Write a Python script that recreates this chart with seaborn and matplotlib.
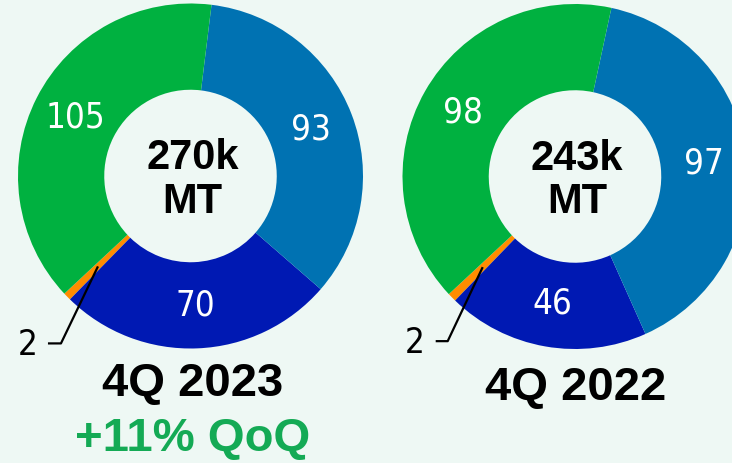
import matplotlib.pyplot as plt
import seaborn as sns
import numpy as np

# segment order: counter-clockwise from the small orange slice
segment_colors = ["#ff8c00", "#0019b3", "#0072b2", "#00b140"]
values_4q23 = [2, 70, 93, 105]
values_4q22 = [2, 46, 97, 98]
period_labels = ["4Q 2023", "4Q 2022"]
center_labels = ["270k\nMT", "243k\nMT"]
growth_label = "+11% QoQ"

sns.set_style("white")
plt.rcParams['font.family'] = ['Liberation Sans', 'DejaVu Sans']
num_font = dict(family='DejaVu Sans', stretch='condensed')

W, H = 732, 463
bg = "#eef8f4"
fig = plt.figure(figsize=(W / 100, H / 100), dpi=100)
fig.patch.set_facecolor(bg)
ax = fig.add_axes([0, 0, 1, 1])
ax.set_facecolor(bg)

R = 172.5


def donut(values, cx, cy, center_text, elbow, tail, small_pos):
    total = sum(values)
    wedges, _, autotexts = ax.pie(
        values, colors=segment_colors, startangle=223, counterclock=True,
        center=(cx, cy), radius=R,
        wedgeprops=dict(width=R * 0.5, linewidth=0),
        autopct=lambda p: f"{p * total / 100:.0f}" if p * total / 100 >= 5 else "",
        pctdistance=0.75,
        textprops=dict(color="white", fontsize=25, **num_font),
    )
    ax.text(cx + 2, cy - 4, center_text, ha="center", va="center",
            fontsize=30, fontweight="bold", color="black", linespacing=1.1)

    # leader line for the small slice
    w = wedges[0]
    mid = np.deg2rad((w.theta1 + w.theta2) / 2)
    sx = cx + 0.75 * R * np.cos(mid)
    sy = cy + 0.75 * R * np.sin(mid)
    ex, ey = sx + elbow[0], sy + elbow[1]
    ax.plot([sx, ex, ex + tail], [sy, ey, ey], color="black", lw=1.6,
            solid_capstyle="butt")
    ax.text(small_pos[0], small_pos[1], str(values[0]), ha="center",
            va="center", fontsize=25, color="black", **num_font)


donut(values_4q23, 190.5, H - 176, center_labels[0], (-37, -77), -13,
      (28, H - 345))
donut(values_4q22, 575, H - 176.5, center_labels[1], (-35, -74), -12,
      (415, H - 343))

ax.text(193, H - 384, period_labels[0], ha="center", va="center",
        fontsize=34, fontweight="bold", color="black")
ax.text(193, H - 439, growth_label, ha="center", va="center",
        fontsize=34, fontweight="bold", color="#14aa55")
ax.text(576, H - 388, period_labels[1], ha="center", va="center",
        fontsize=34, fontweight="bold", color="black")

ax.set_xlim(0, W)
ax.set_ylim(0, H)
ax.set_aspect("equal")
ax.axis("off")

plt.savefig("out.png", dpi=100, facecolor=bg)
